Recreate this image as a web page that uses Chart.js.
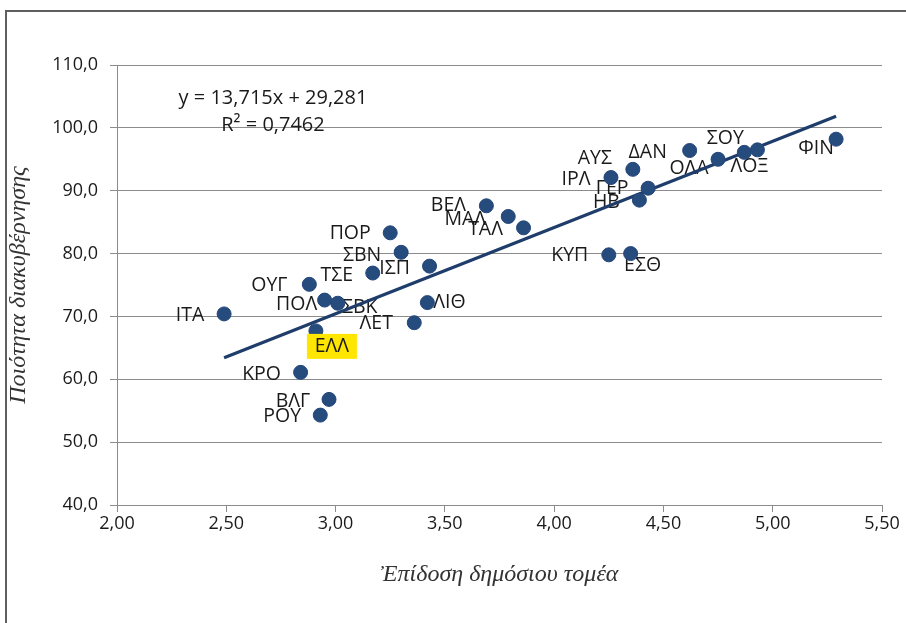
<!DOCTYPE html>
<html>
<head>
<meta charset="utf-8">
<script src="https://cdn.jsdelivr.net/npm/chart.js@4.4.1/dist/chart.umd.min.js"></script>
<style>
  html, body { margin: 0; padding: 0; background: #ffffff; }
  #wrap { position: relative; width: 906px; height: 623px; overflow: hidden; }
  #frame { position: absolute; left: 5px; top: 10px; width: 1000px; height: 1000px;
           border-left: 2px solid #5f5f5f; border-top: 2px solid #5f5f5f; box-sizing: border-box; }
  canvas { position: absolute; left: 0; top: 0; }
</style>
</head>
<body>
<div id="wrap">
  <div id="frame"></div>
  <canvas id="c" width="906" height="623"></canvas>
</div>
<script>
// ---- data ----
const countries = ['ΙΤΑ','ΟΥΓ','ΠΟΛ','ΣΒΚ','ΤΣΕ','ΠΟΡ','ΣΒΝ','ΙΣΠ','ΛΙΘ','ΛΕΤ','ΕΛΛ','ΚΡΟ','ΒΛΓ','ΡΟΥ',
                   'ΒΕΛ','ΜΑΛ','ΤΑΛ','ΚΥΠ','ΕΣΘ','ΙΡΛ','ΑΥΣ','ΗΒ','ΓΕΡ','ΔΑΝ','ΟΛΑ','ΣΟΥ','ΛΟΞ','ΦΙΝ'];
const publicSectorPerformance = [2.49, 2.88, 2.95, 3.01, 3.17, 3.25, 3.30, 3.43, 3.42, 3.36, 2.91, 2.84, 2.97, 2.93,
                                 3.69, 3.79, 3.86, 4.25, 4.35, 4.26, 4.36, 4.39, 4.43, 4.62, 4.75, 4.87, 4.93, 5.29];
const governanceQuality = [70.4, 75.1, 72.6, 72.1, 76.9, 83.3, 80.2, 78.0, 72.2, 69.0, 67.7, 61.1, 56.8, 54.3,
                           87.6, 85.9, 84.1, 79.8, 80.0, 92.1, 93.4, 88.5, 90.4, 96.4, 95.0, 96.1, 96.5, 98.2];
const trendSlope = 13.715;
const trendIntercept = 29.281;
const rSquared = 0.7462;
const xTicks = [2.00, 2.50, 3.00, 3.50, 4.00, 4.50, 5.00, 5.50];
const yTicks = [40, 50, 60, 70, 80, 90, 100, 110];
const highlighted = 'ΕΛΛ';

// label placement (pixel offsets of label centre from its point)
const labelOffsets = [[-34,2],[-40,1],[-28,4],[22,4],[-36,2],[-40,1],[-39,3],[-35,2],[22,0],[-38,1],[16,16],[-39,2],[-36,2],[-38,1],
                      [-38,0],[-43,3],[-38,2],[-39,1],[12,12],[-35,2],[-38,-11],[-33,2],[-36,0],[-42,2],[-29,9],[-19,-14],[-8,17],[-20,9]];

const fmt = (v, d) => v.toFixed(d).replace('.', ',');
const points = countries.map((c, i) => ({ x: publicSectorPerformance[i], y: governanceQuality[i] }));
const xMinData = Math.min(...publicSectorPerformance);
const xMaxData = Math.max(...publicSectorPerformance);
const trendPoints = [xMinData, xMaxData].map(x => ({ x: x, y: trendSlope * x + trendIntercept }));

const LABEL_FONT = '19.5px "Open Sans", "Noto Sans", sans-serif';

const labelPlugin = {
  id: 'pointLabels',
  beforeDatasetsDraw(chart) {
    const ctx = chart.ctx;
    const meta = chart.getDatasetMeta(0);
    ctx.save();
    ctx.font = LABEL_FONT;
    ctx.fillStyle = '#1a1a1a';
    ctx.textAlign = 'center';
    ctx.textBaseline = 'middle';
    meta.data.forEach((el, i) => {
      if (countries[i] === highlighted) return;
      const o = labelOffsets[i];
      ctx.fillText(countries[i], el.x + o[0], el.y + o[1]);
    });
    ctx.restore();
  },
  afterDatasetsDraw(chart) {
    const ctx = chart.ctx;
    const meta = chart.getDatasetMeta(0);
    const area = chart.chartArea;
    ctx.save();
    ctx.font = LABEL_FONT;
    ctx.textAlign = 'center';
    ctx.textBaseline = 'middle';
    meta.data.forEach((el, i) => {
      if (countries[i] !== highlighted) return;
      const o = labelOffsets[i];
      const cx = el.x + o[0], cy = el.y + o[1];
      ctx.fillStyle = '#ffe600';
      ctx.fillRect(cx - 25, cy - 13, 50, 25);
      ctx.fillStyle = '#1a1a1a';
      ctx.fillText(countries[i], cx, cy);
    });
    // trendline equation
    ctx.font = '20px "Open Sans", "Noto Sans", sans-serif';
    ctx.fillStyle = '#1a1a1a';
    const ex = area.left + 156;
    ctx.fillText('y = ' + fmt(trendSlope, 3) + 'x + ' + fmt(trendIntercept, 3), ex, area.top + 33);
    ctx.fillText('R² = ' + fmt(rSquared, 4), ex, area.top + 60);
    // axis titles
    ctx.font = 'italic 24px "Liberation Serif", "DejaVu Serif", serif';
    ctx.fillStyle = '#333333';
    ctx.fillText('Ἐπίδοση δημόσιου τομέα', (area.left + area.right) / 2, area.bottom + 70);
    ctx.translate(19, (area.top + area.bottom) / 2);
    ctx.rotate(-Math.PI / 2);
    ctx.fillText('Ποιότητα διακυβέρνησης', 0, 0);
    ctx.restore();
  }
};

new Chart(document.getElementById('c'), {
  type: 'scatter',
  data: {
    datasets: [
      {
        label: 'Χώρες',
        data: points,
        backgroundColor: '#264b7d',
        borderColor: '#23457a',
        borderWidth: 1,
        pointRadius: 7,
        pointHoverRadius: 7,
        order: 0
      },
      {
        type: 'line',
        label: 'Γραμμική τάση',
        data: trendPoints,
        borderColor: '#1f3d6b',
        borderWidth: 3.2,
        pointRadius: 0,
        fill: false,
        order: 1
      }
    ]
  },
  options: {
    responsive: false,
    animation: false,
    devicePixelRatio: 1,
    layout: { padding: { top: 65, right: 24, left: 0, bottom: 0 } },
    plugins: { legend: { display: false }, tooltip: { enabled: false } },
    scales: {
      x: {
        type: 'linear',
        min: xTicks[0], max: xTicks[xTicks.length - 1],
        afterBuildTicks: (s) => { s.ticks = xTicks.map(v => ({ value: v })); },
        afterFit: (s) => { s.height = 118; },
        grid: { drawOnChartArea: false, drawTicks: true, tickLength: 7, color: '#8c8c8c', lineWidth: 1 },
        border: { display: true, color: '#8c8c8c', width: 1 },
        ticks: {
          callback: (v) => fmt(v, 2),
          font: { family: '"Open Sans", "Noto Sans", sans-serif', size: 18 },
          color: '#1a1a1a',
          padding: 1,
          maxRotation: 0
        }
      },
      y: {
        type: 'linear',
        min: yTicks[0], max: yTicks[yTicks.length - 1],
        afterBuildTicks: (s) => { s.ticks = yTicks.map(v => ({ value: v })); },
        afterFit: (s) => { s.width = 117; },
        grid: { drawOnChartArea: true, drawTicks: true, tickLength: 7, color: '#8c8c8c', lineWidth: 1 },
        border: { display: true, color: '#8c8c8c', width: 1 },
        ticks: {
          callback: (v) => fmt(v, 1),
          font: { family: '"Open Sans", "Noto Sans", sans-serif', size: 18 },
          color: '#1a1a1a',
          padding: 12
        }
      }
    }
  },
  plugins: [labelPlugin]
});
</script>
</body>
</html>
